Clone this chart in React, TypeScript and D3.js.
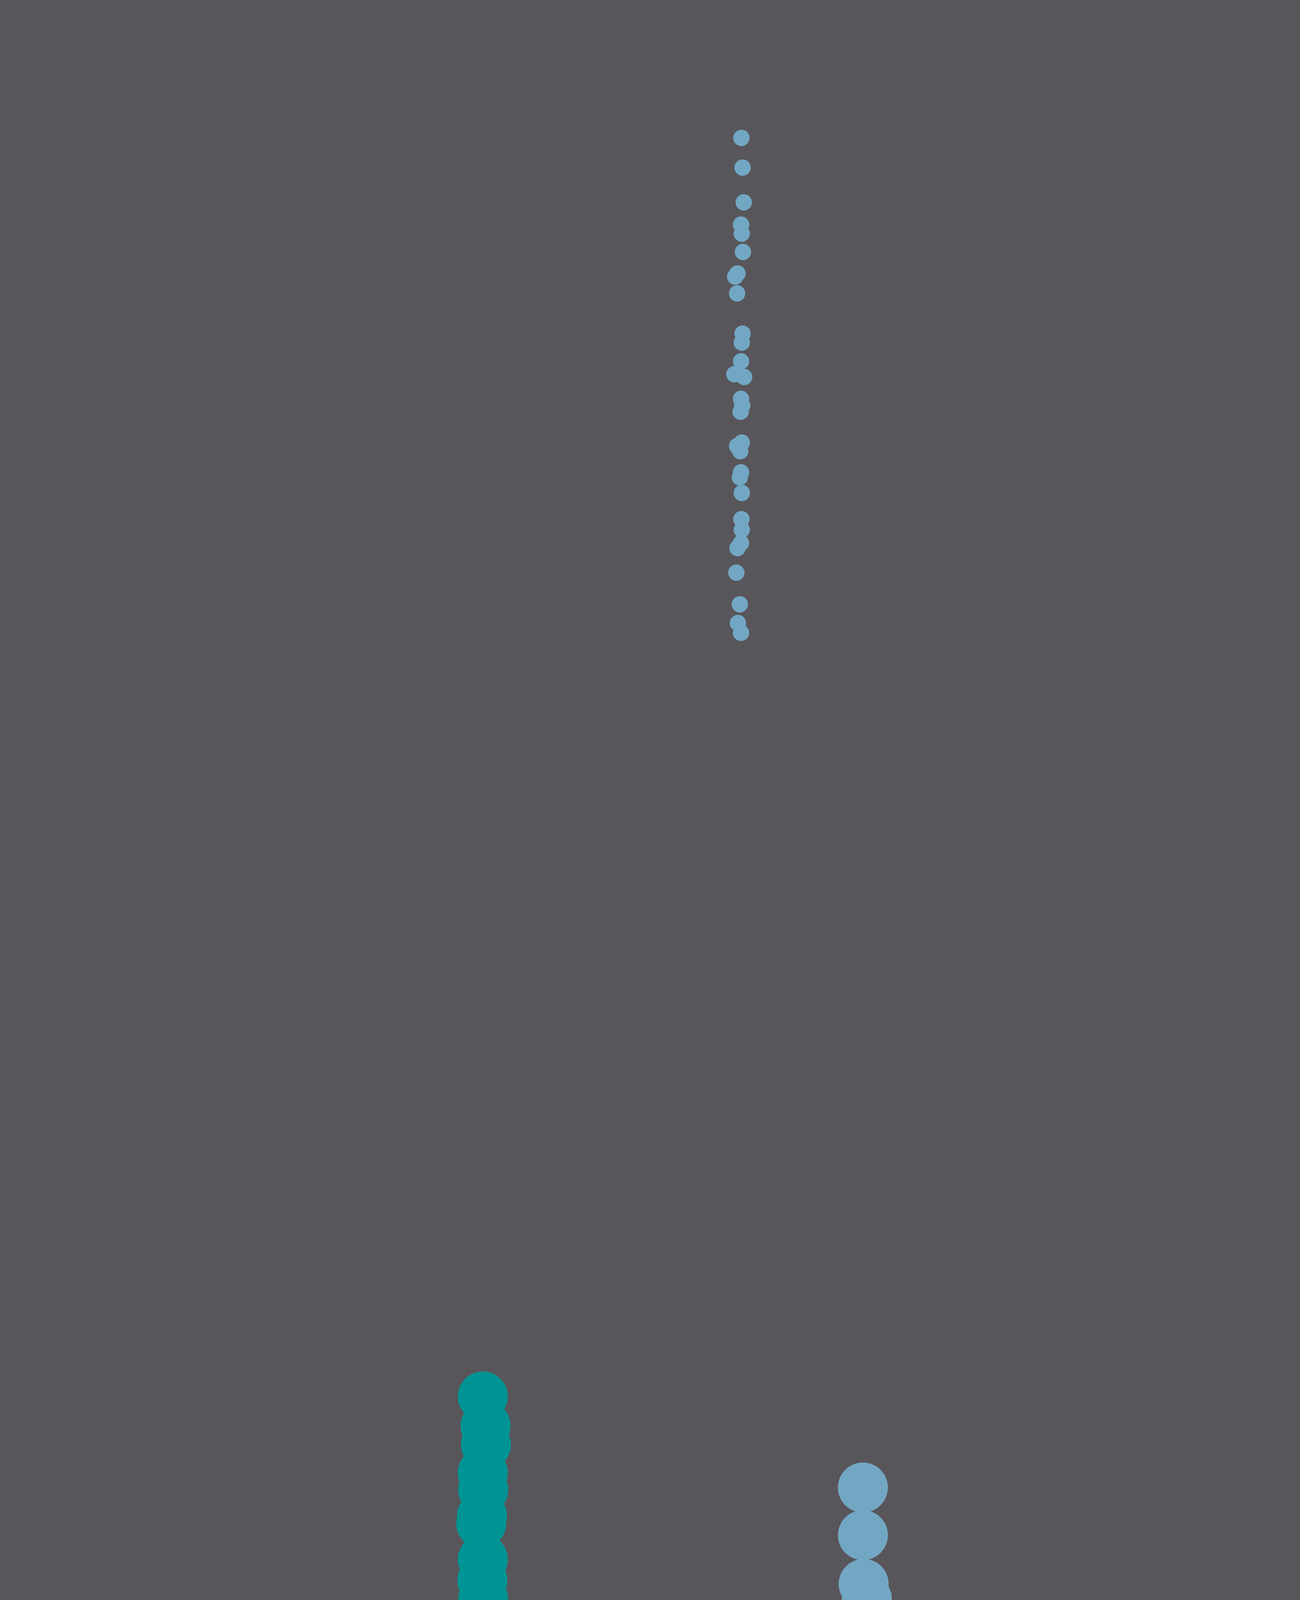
import React from "react";
import * as d3 from "d3";

const WIDTH = 3328;
const HEIGHT = 4864;

// Group "small" – many small points (x, y in data units)
const smallX = [474.5, 475.25, 476, 474.25, 474.75, 475.5, 470.5, 472, 471.75, 475.25, 474.75, 474.25, 470, 476.25, 474.25, 475, 474, 474.75, 471.75, 473.75, 474.25, 473.5, 474.75, 474.5, 474.75, 474.25, 472, 471.25, 473.5, 472.25, 474.25];
const smallY = [88.25, 107.25, 129.5, 143.75, 149.5, 161.25, 177, 175, 187.75, 213.5, 219.25, 231.25, 239.5, 241.25, 255.25, 259.5, 263.5, 283.25, 285.5, 288.75, 302.25, 305.5, 315.5, 332.25, 339, 347.5, 350.75, 366.5, 386.75, 398.75, 405];
const smallSize = 1;

// Group "teal" – large points
const tealX = [309, 310.75, 311, 309, 309.25, 308.5, 308, 309, 308.75, 309.25, 309, 310, 310.25, 310.5];
const tealY = [893.75, 912.5, 924.5, 942.5, 953.5, 970, 975, 998, 1011.5, 1023.75, 1040, 1047.25, 1053, 1077.5];
const tealSize = 9.3;

// Group "blue" – large points
const blueX = [552.25, 552.25, 552.75, 554.75, 554.5, 550.75, 553, 554.5, 550.25, 554.75, 551, 554, 551.25, 552.25, 550.75, 552.25, 550.5, 554.5, 551.25, 553.5, 552.75, 552.5];
const blueY = [952, 982.5, 1013.75, 1023.25, 1034.5, 1045.75, 1051.25, 1067, 1082.75, 1082.75, 1095.75, 1099.5, 1112.5, 1125.5, 1138.5, 1142.25, 1155.75, 1160.75, 1183.75, 1185, 1197.75, 1225];
const blueSize = 9.3;

const COLORS = {
  background: "#58565a",
  small: "#72a7c3",
  teal: "#009494",
  blue: "#72a7c3",
};

type Pt = { x: number; y: number; size: number; color: string };

export default function App() {
  React.useLayoutEffect(() => {
    document.body.style.margin = "0";
    document.body.style.background = COLORS.background;
  }, []);

  const xScale = d3.scaleLinear().domain([0, 832]).range([0, WIDTH]);
  const yScale = d3.scaleLinear().domain([0, 1216]).range([0, HEIGHT]);
  const rScale = d3.scaleSqrt().domain([0, 9.3]).range([0, 64]);

  const points: Pt[] = [
    ...smallX.map((x, i) => ({ x, y: smallY[i], size: smallSize, color: COLORS.small })),
    ...tealX.map((x, i) => ({ x, y: tealY[i], size: tealSize, color: COLORS.teal })),
    ...blueX.map((x, i) => ({ x, y: blueY[i], size: blueSize, color: COLORS.blue })),
  ];

  return (
    <div style={{ width: WIDTH, height: HEIGHT, overflow: "hidden" }}>
      <svg width={WIDTH} height={HEIGHT} style={{ display: "block" }}>
        <rect x={0} y={0} width={WIDTH} height={HEIGHT} fill={COLORS.background} />
        <g>
          {points.map((p, i) => (
            <circle
              key={i}
              cx={xScale(p.x)}
              cy={yScale(p.y)}
              r={rScale(p.size)}
              fill={p.color}
            />
          ))}
        </g>
      </svg>
    </div>
  );
}
